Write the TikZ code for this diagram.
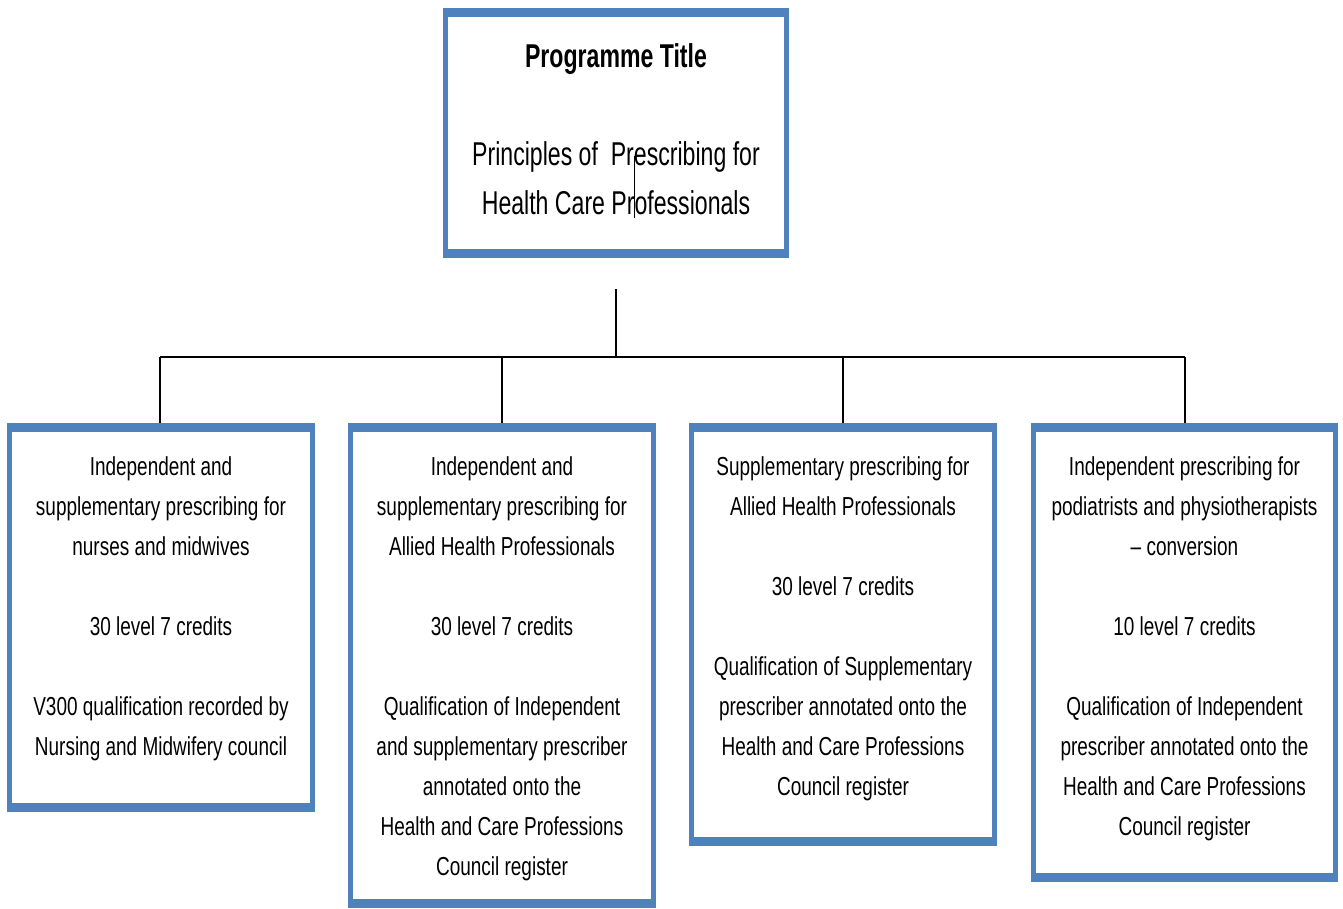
\documentclass[tikz,border=0pt]{standalone}
\usepackage{fontspec}
\setmainfont[FakeStretch=0.73]{Liberation Sans}
\newfontfamily\topfont[FakeStretch=0.70]{Liberation Sans}
\definecolor{boxblue}{RGB}{79,129,189}
\begin{document}
\begin{tikzpicture}[x=1pt,y=-1pt,
  outerbox/.style={draw=none,fill=boxblue,inner sep=0,outer sep=0,minimum width=#1},
  lowtext/.style={anchor=north,align=center,inner sep=0,font=\fontsize{26}{40}\selectfont},
  toptext/.style={anchor=north,align=center,inner sep=0,font=\topfont\fontsize{33}{49}\selectfont},
  conn/.style={draw=black,line width=1.4pt},
  busline/.style={draw=black,line width=2pt}]
\useasboundingbox (0,0) rectangle (1343,909);
\fill[white] (0,0) rectangle (1343,909);
% connectors
\coordinate (tstart) at (616,289);
\coordinate (bus) at (616,357);
\coordinate (busL) at (160,357);
\coordinate (busR) at (1185,357);
\coordinate (d1) at (160,357);
\coordinate (d2) at (502,357);
\coordinate (d3) at (843,357);
\coordinate (d4) at (1185,357);
\draw[busline] (busL) -- (busR);
\draw[conn] (tstart) -- (bus);
% boxes
\node[outerbox=346pt,minimum height=250pt] (top) at (616,133) {};
\fill[white] ([xshift=5pt,yshift=-9pt]top.north west) rectangle ([xshift=-5pt,yshift=9pt]top.south east);
\node[outerbox=308pt,minimum height=389pt] (b1) at (161,617.5) {};
\fill[white] ([xshift=5pt,yshift=-9pt]b1.north west) rectangle ([xshift=-5pt,yshift=9pt]b1.south east);
\node[outerbox=308pt,minimum height=485pt] (b2) at (502,665.5) {};
\fill[white] ([xshift=5pt,yshift=-9pt]b2.north west) rectangle ([xshift=-5pt,yshift=9pt]b2.south east);
\node[outerbox=308pt,minimum height=423pt] (b3) at (843,634.5) {};
\fill[white] ([xshift=5pt,yshift=-9pt]b3.north west) rectangle ([xshift=-5pt,yshift=9pt]b3.south east);
\node[outerbox=307pt,minimum height=459pt] (b4) at (1184.5,652.5) {};
\fill[white] ([xshift=5pt,yshift=-9pt]b4.north west) rectangle ([xshift=-5pt,yshift=9pt]b4.south east);
\draw[conn] (d1) -- (d1 |- b1.north);
\draw[conn] (d2) -- (d2 |- b2.north);
\draw[conn] (d3) -- (d3 |- b3.north);
\draw[conn] (d4) -- (d4 |- b4.north);
% texts
\node[toptext] (ttop) at (616,33) {\strut\textbf{Programme Title}\\[49pt]Principles of\ \ Prescribing for\\Health Care Professionals};
\coordinate (s1) at (634,156);
\coordinate (s2) at (634,218);
\draw[black,line width=1pt] (s1) -- (s2);
\node[lowtext] (t1) at (161,447) {\strut Independent and\\supplementary prescribing for\\nurses and midwives\\[40pt]30 level 7 credits\\[40pt]V300 qualification recorded by\\Nursing and Midwifery council};
\node[lowtext] (t2) at (502,447) {\strut Independent and\\supplementary prescribing for\\Allied Health Professionals\\[40pt]30 level 7 credits\\[40pt]Qualification of Independent\\and supplementary prescriber\\annotated onto the\\Health and Care Professions\\Council register};
\node[lowtext] (t3) at (843,447) {\strut Supplementary prescribing for\\Allied Health Professionals\\[40pt]30 level 7 credits\\[40pt]Qualification of Supplementary\\prescriber annotated onto the\\Health and Care Professions\\Council register};
\node[lowtext] (t4) at (1184.5,447) {\strut Independent prescribing for\\podiatrists and physiotherapists\\– conversion\\[40pt]10 level 7 credits\\[40pt]Qualification of Independent\\prescriber annotated onto the\\Health and Care Professions\\Council register};
\end{tikzpicture}
\end{document}
